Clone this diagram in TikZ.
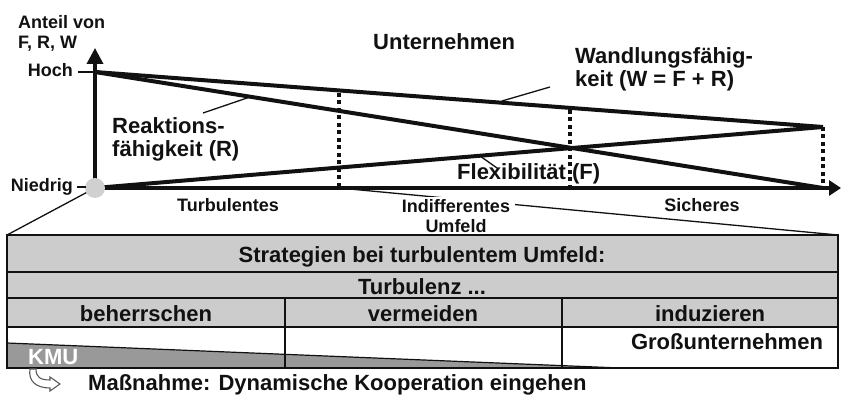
\documentclass[tikz,border=0pt]{standalone}
\usepackage{fontspec}
\setmainfont{Liberation Sans}
\usetikzlibrary{arrows.meta}
\definecolor{lgray}{HTML}{CCCCCC}
\definecolor{dgray}{HTML}{999999}
\definecolor{cgray}{HTML}{D0D0D0}
\definecolor{txt}{HTML}{111111}
\begin{document}
\begin{tikzpicture}[x=1pt,y=-1pt,
  big/.style={font=\fontsize{22}{23}\selectfont\bfseries, inner sep=0pt, text=txt, align=left},
  small/.style={font=\fontsize{18}{20}\selectfont\bfseries, inner sep=0pt, text=txt, align=left},
  curveline/.style={line width=4pt, draw=txt},
  axisline/.style={line width=3.5pt, draw=txt},
  leader/.style={line width=1.3pt, draw=txt},
  dots/.style={line width=4pt, draw=txt, dash pattern=on 4pt off 3.5pt},
  tb/.style={line width=1.8pt, draw=txt},
]
\useasboundingbox (0,0) rectangle (841,395);

% key coordinates
\coordinate (O) at (95,188);
\coordinate (H) at (95,72);
\coordinate (E) at (823,127);
\coordinate (Rend) at (823,188);
\coordinate (ytip) at (95,48);
\coordinate (xtip) at (841,188);
\coordinate (d1t) at (339,93);
\coordinate (d1b) at (339,188);
\coordinate (d2t) at (570,110);
\coordinate (d2b) at (570,188);
\coordinate (d3t) at (823,127);
\coordinate (d3b) at (823,188);
\coordinate (tl) at (7,235);
\coordinate (tr) at (838,235);

% funnel lines
\draw[leader] (O) -- (tl);
\draw[leader] (d1b) -- (tr);

% dotted verticals
\draw[dots] (d1t) -- (d1b);
\draw[dots] (d2t) -- (d2b);
\draw[dots] (d3t) -- (d3b);

% axes
\draw[axisline, -{Triangle[length=16pt,width=16pt]}] (O) -- (ytip);
\draw[axisline, -{Triangle[length=12pt,width=15pt]}] (O) -- (xtip);

% curves
\draw[curveline] (H) -- (E);
\draw[curveline] (H) -- (Rend);
\draw[curveline] (O) -- (E);

% origin circle
\fill[cgray] (O) circle (10);

% ticks
\coordinate (hochT) at (78,72);
\coordinate (niedT) at (77,187);
\coordinate (niedT2) at (86,187);
\draw[leader] (hochT) -- (H);
\draw[leader] (niedT) -- (niedT2);

% axis labels
\node[small, anchor=north west] (anteil) at (18,15) {Anteil von\\F, R, W};
\node[small, anchor=base east] (hoch) at (73,77) {Hoch};
\node[small, anchor=base east] (niedrig) at (73,192) {Niedrig};
\node[small, anchor=base] (turb) at (228,212) {Turbulentes};
\node[small, anchor=base] (sich) at (702,212) {Sicheres};

% curve labels
\node[big, anchor=base west] (unt) at (373,50) {Unternehmen};
\node[big, anchor=north west] (wand) at (575,47) {Wandlungsfähig-\\keit (W = F + R)};
\node[big, anchor=north west] (reak) at (112,117) {Reaktions-\\fähigkeit (R)};
\node[big, anchor=base west] (flex) at (457,180) {Flexibilität (F)};

% leaders
\coordinate (wl1) at (550,87);
\coordinate (wl2) at (502,101);
\coordinate (rl1) at (203,113);
\coordinate (rl2) at (250,97);
\coordinate (fl1) at (497,168);
\coordinate (fl2) at (480,156);
\draw[leader] (wl1) -- (wl2);
\draw[leader] (rl1) -- (rl2);
\draw[leader] (fl1) -- (fl2);

% table
\fill[lgray] (7,235) rectangle (838,327);
\fill[dgray] (7,343) -- (620,368) -- (7,368) -- cycle;
\draw[line width=1.2pt, draw=txt] (7,343) -- (620,368);
\draw[tb] (7,235) rectangle (838,368);
\draw[tb] (7,272) -- (838,272);
\draw[tb] (7,298) -- (838,298);
\draw[tb] (7,327) -- (838,327);
\draw[tb] (285,298) -- (285,368);
\draw[tb] (562,298) -- (562,368);

% indifferent label over funnel line
\node[small, anchor=north, align=center, fill=white, inner xsep=5pt, inner ysep=2pt] (indiff) at (456,197) {Indifferentes\\Umfeld};

% table texts
\node[big, anchor=base] (strat) at (422,263) {Strategien bei turbulentem Umfeld:};
\node[big, anchor=base] (turbz) at (422,295) {Turbulenz ...};
\node[big, anchor=base] (beh) at (146,322) {beherrschen};
\node[big, anchor=base] (verm) at (423,322) {vermeiden};
\node[big, anchor=base] (ind) at (710,322) {induzieren};
\node[big, anchor=base] (gross) at (727,350) {Großunternehmen};
\node[big, anchor=base west, text=white] (kmu) at (28,365) {KMU};

% bottom arrow icon and measure
\draw[line width=1.1pt, draw=black!65, fill=white]
  (30,369) .. controls (28,381) and (36,388) .. (50,388) -- (50,391) -- (60,384)
  -- (50,377) -- (50,380) .. controls (40,380) and (36,377) .. (36,369) -- cycle;
\node[big, anchor=base west] (mass) at (88,390) {Maßnahme: Dynamische Kooperation eingehen};
\end{tikzpicture}
\end{document}
